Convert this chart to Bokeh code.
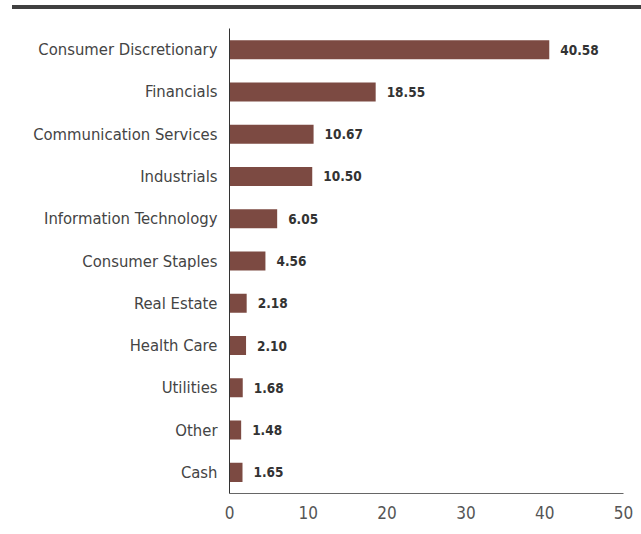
from bokeh.plotting import figure
from bokeh.models import ColumnDataSource, FactorRange, Range1d, FixedTicker, Div
from bokeh.layouts import column
from bokeh.core.properties import value
from bokeh.embed import file_html
from bokeh.resources import INLINE

sectors = ["Consumer Discretionary", "Financials", "Communication Services", "Industrials",
           "Information Technology", "Consumer Staples", "Real Estate", "Health Care",
           "Utilities", "Other", "Cash"]
weights = [40.58, 18.55, 10.67, 10.50, 6.05, 4.56, 2.18, 2.10, 1.68, 1.48, 1.65]
labels = ["40.58", "18.55", "10.67", "10.50", "6.05", "4.56", "2.18", "2.10", "1.68", "1.48", "1.65"]
x_ticks = [0, 10, 20, 30, 40, 50]

FONT = "DejaVu Sans Condensed"
BAR = "#7c4a42"

src = ColumnDataSource(dict(sector=sectors, weight=weights, label=labels))

p = figure(
    y_range=FactorRange(factors=list(reversed(sectors)), range_padding=0),
    x_range=Range1d(0, 50),
    frame_width=394, frame_height=465,
    min_border_left=229, min_border_top=19, min_border_right=10, min_border_bottom=33,
    output_backend="svg", toolbar_location=None,
)

p.hbar(y="sector", right="weight", left=0, height=0.45, source=src,
       fill_color=BAR, line_color=None)
p.text(x="weight", y="sector", text="label", source=src, x_offset=11,
       text_font=value(FONT), text_font_style="bold", text_font_size="13.5px",
       text_color="#333333", text_baseline="middle", text_align="left")

p.xgrid.grid_line_color = None
p.ygrid.grid_line_color = None
p.outline_line_color = None
p.background_fill_color = "white"
p.border_fill_color = "white"

p.xaxis.ticker = FixedTicker(ticks=x_ticks)
p.xaxis.major_tick_line_color = None
p.xaxis.minor_tick_line_color = None
p.xaxis.axis_line_color = "#666666"
p.xaxis.major_label_text_font = FONT
p.xaxis.major_label_text_font_size = "17px"
p.xaxis.major_label_text_color = "#555555"
p.xaxis.major_label_standoff = 6

p.yaxis.major_tick_line_color = None
p.yaxis.minor_tick_line_color = None
p.yaxis.axis_line_color = "#333333"
p.yaxis.major_label_text_font = FONT
p.yaxis.major_label_text_font_size = "16.5px"
p.yaxis.major_label_text_color = "#444444"
p.yaxis.major_label_standoff = 6

rule = Div(text="", width=629, height=4, margin=(5, 0, 0, 12),
           styles={"background-color": "#404040"})

layout = column(rule, p, spacing=0)
open("out.html", "w").write(file_html(layout, INLINE))
